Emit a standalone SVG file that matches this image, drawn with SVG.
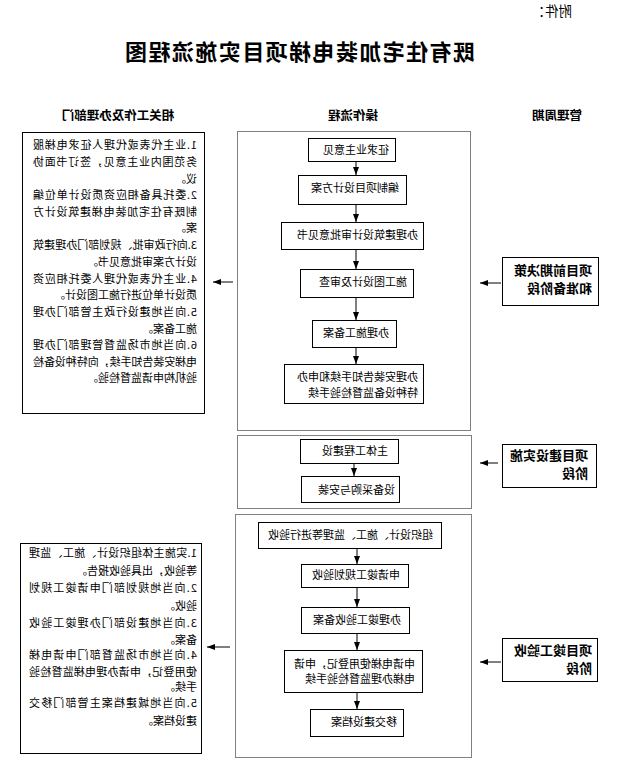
<svg xmlns="http://www.w3.org/2000/svg" width="628" height="779" viewBox="0 0 628 779">
<style>
text{font-family:"Noto Sans CJK SC","Liberation Sans",sans-serif;fill:#000}
.t{font-size:11px}
.h{font-size:12.5px;font-weight:bold;text-anchor:middle}
.s{font-size:13px;font-weight:bold}
.b{fill:#fff;stroke:#000;stroke-width:1}
.d{fill:none;stroke:#000;stroke-width:1;stroke-dasharray:1 1}
.c{fill:none;stroke:#000;stroke-width:1}
</style>
<defs>
<marker id="ah" markerUnits="userSpaceOnUse" markerWidth="8" markerHeight="6" refX="8" refY="3" orient="auto">
<path d="M0,0 L8,3 L0,6 z" fill="#000"/>
</marker>
</defs>
<rect width="628" height="779" fill="#fff"/>
<g transform="matrix(-1 0 0 1 628 0)">
<text x="56" y="16" style="font-size:13.5px">附件：</text>
<text x="153" y="60" textLength="350" lengthAdjust="spacing" style="font-size:22px;font-weight:bold">既有住宅加装电梯项目实施流程图</text>
<text class="h" x="71" y="120">管理周期</text>
<text class="h" x="275" y="120">操作流程</text>
<text class="h" x="510" y="120">相关工作及办理部门</text>

<g id="stage1"><rect class="b" x="29.5" y="257.5" width="96" height="48"/>
<text class="s" x="36" y="275">项目前期决策</text><text class="s" x="36" y="293">和准备阶段</text></g>
<g id="stage2"><rect class="b" x="31.5" y="444.5" width="94" height="43"/>
<text class="s" x="40" y="460">项目建设实施</text><text class="s" x="40" y="478">阶段</text></g>
<g id="stage3"><rect class="b" x="30.5" y="638.5" width="95" height="43"/>
<text class="s" x="36" y="655">项目竣工验收</text><text class="s" x="36" y="673">阶段</text></g>

<g id="phase1"><rect class="d" x="157.5" y="131.5" width="233" height="299"/></g>
<g id="phase2"><rect class="d" x="156.5" y="435.5" width="234" height="73"/></g>
<g id="phase3"><rect class="d" x="156.5" y="514.5" width="236" height="243"/></g>

<g id="n1"><rect class="b" x="232.5" y="138.5" width="87" height="23"/><text class="t" x="239" y="154">征求业主意见</text></g>
<g id="n2"><rect class="b" x="221.5" y="175.5" width="108" height="29"/><text class="t" x="229" y="192">编制项目设计方案</text></g>
<g id="n3"><rect class="b" x="204.5" y="222.5" width="142" height="27"/><text class="t" x="210" y="239">办理建筑设计审批意见书</text></g>
<g id="n4"><rect class="b" x="214.5" y="269.5" width="113" height="28"/><text class="t" x="221" y="286">施工图设计及审查</text></g>
<g id="n5"><rect class="b" x="231.5" y="320.5" width="84" height="27"/><text class="t" x="239" y="337">办理施工备案</text></g>
<g id="n6"><rect class="b" x="204.5" y="364.5" width="139" height="39"/><text class="t" x="210" y="381">办理安装告知手续和申办</text><text class="t" x="210" y="397">特种设备监督检验手续</text></g>

<g id="n7"><rect class="b" x="229.5" y="439.5" width="98" height="24"/><text class="t" x="240" y="455">主体工程建设</text></g>
<g id="n8"><rect class="b" x="228.5" y="476.5" width="98" height="26"/><text class="t" x="233" y="494">设备采购与安装</text></g>

<g id="n9"><rect class="b" x="186.5" y="522.5" width="183" height="26"/><text class="t" x="195" y="539">组织设计、施工、监理等进行验收</text></g>
<g id="n10"><rect class="b" x="219.5" y="564.5" width="107" height="23"/><text class="t" x="228" y="579">申请竣工规划验收</text></g>
<g id="n11"><rect class="b" x="218.5" y="607.5" width="108" height="26"/><text class="t" x="227" y="624">办理竣工验收备案</text></g>
<g id="n12"><rect class="b" x="205.5" y="650.5" width="138" height="42"/><text class="t" x="213" y="668">申请电梯使用登记，申请</text><text class="t" x="213" y="683">电梯办理监督检验手续</text></g>
<g id="n13"><rect class="b" x="224.5" y="709.5" width="93" height="27"/><text class="t" x="231" y="726">移交建设档案</text></g>

<g id="work1"><rect class="b" x="423.5" y="132.5" width="182" height="281"/>
<text class="t" x="431" y="149" textLength="164" lengthAdjust="spacing">1.业主代表或代理人征求电梯服</text>
<text class="t" x="431" y="166" textLength="164" lengthAdjust="spacing">务范围内业主意见，签订书面协</text>
<text class="t" x="431" y="183">议。</text>
<text class="t" x="431" y="199" textLength="164" lengthAdjust="spacing">2.委托具备相应资质设计单位编</text>
<text class="t" x="431" y="216" textLength="164" lengthAdjust="spacing">制既有住宅加装电梯建筑设计方</text>
<text class="t" x="431" y="232">案。</text>
<text class="t" x="431" y="249" textLength="164" lengthAdjust="spacing">3.向行政审批、规划部门办理建筑</text>
<text class="t" x="431" y="266">设计方案审批意见书。</text>
<text class="t" x="431" y="283" textLength="164" lengthAdjust="spacing">4.业主代表或代理人委托相应资</text>
<text class="t" x="431" y="299">质设计单位进行施工图设计。</text>
<text class="t" x="431" y="316" textLength="164" lengthAdjust="spacing">5.向当地建设行政主管部门办理</text>
<text class="t" x="431" y="333">施工备案。</text>
<text class="t" x="431" y="349" textLength="164" lengthAdjust="spacing">6.向当地市场监督管理部门办理</text>
<text class="t" x="431" y="366" textLength="164" lengthAdjust="spacing">电梯安装告知手续，向特种设备检</text>
<text class="t" x="431" y="382">验机构申请监督检验。</text>
</g>

<g id="work2"><rect class="b" x="426.5" y="543.5" width="181" height="210"/>
<text class="t" x="431" y="557" textLength="168" lengthAdjust="spacing">1.实施主体组织设计、施工、监理</text>
<text class="t" x="431" y="575">等验收，出具验收报告。</text>
<text class="t" x="431" y="592" textLength="168" lengthAdjust="spacing">2.向当地规划部门申请竣工规划</text>
<text class="t" x="431" y="610">验收。</text>
<text class="t" x="431" y="627" textLength="168" lengthAdjust="spacing">3.向当地建设部门办理竣工验收</text>
<text class="t" x="431" y="644">备案。</text>
<text class="t" x="431" y="659" textLength="168" lengthAdjust="spacing">4.向当地市场监督部门申请电梯</text>
<text class="t" x="431" y="676" textLength="168" lengthAdjust="spacing">使用登记，申请办理电梯监督检验</text>
<text class="t" x="431" y="691">手续。</text>
<text class="t" x="431" y="707" textLength="168" lengthAdjust="spacing">5.向当地城建档案主管部门移交</text>
<text class="t" x="431" y="725">建设档案。</text>
</g>

<g id="connectors">
<line class="c" x1="272" y1="162" x2="272" y2="175" marker-end="url(#ah)"/>
<line class="c" x1="272" y1="205" x2="272" y2="222" marker-end="url(#ah)"/>
<line class="c" x1="272" y1="250" x2="272" y2="269" marker-end="url(#ah)"/>
<line class="c" x1="272" y1="298" x2="272" y2="320" marker-end="url(#ah)"/>
<line class="c" x1="272" y1="348" x2="272" y2="364" marker-end="url(#ah)"/>
<line class="c" x1="274" y1="464" x2="274" y2="476" marker-end="url(#ah)"/>
<line class="c" x1="271" y1="549" x2="271" y2="564" marker-end="url(#ah)"/>
<line class="c" x1="271" y1="588" x2="271" y2="607" marker-end="url(#ah)"/>
<line class="c" x1="271" y1="634" x2="271" y2="650" marker-end="url(#ah)"/>
<line class="c" x1="271" y1="693" x2="271" y2="709" marker-end="url(#ah)"/>
<line class="c" x1="127" y1="283" x2="148" y2="283" marker-end="url(#ah)"/>
<line class="c" x1="395" y1="282" x2="415" y2="282" marker-end="url(#ah)"/>
<line class="c" x1="130" y1="463" x2="148" y2="463" marker-end="url(#ah)"/>
<line class="c" x1="127" y1="662" x2="148" y2="662" marker-end="url(#ah)"/>
<line class="c" x1="398" y1="647" x2="421" y2="647" marker-end="url(#ah)"/>
</g>
</g>
</svg>
